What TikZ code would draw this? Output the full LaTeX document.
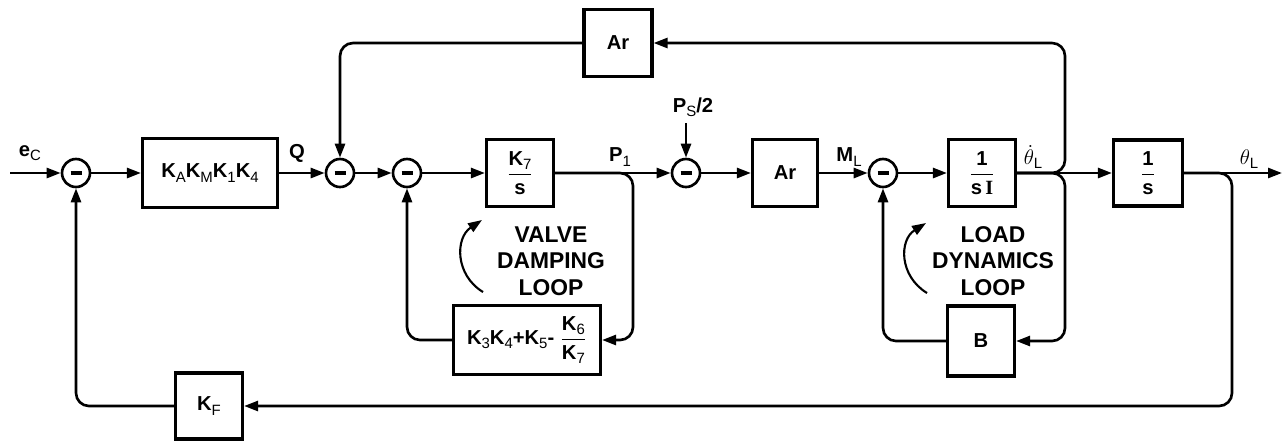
\documentclass[tikz,border=0pt]{standalone}
\usepackage{amsmath}
\usepackage{fontspec}
\setmainfont{Liberation Sans}
\newfontfamily\serifface{Liberation Serif}
\usetikzlibrary{arrows.meta, positioning, calc}

% light, lowered subscript
\newcommand{\lo}[1]{\raisebox{-0.4ex}{\mdseries\fontsize{8.5}{8.5}\selectfont #1}}

\begin{document}
\begin{tikzpicture}[
    x=0.02cm, y=-0.02cm,
    font=\fontsize{11.5}{13}\selectfont\bfseries,
    % Transfer block
    blk/.style={
        rectangle, draw=black, line width=1.8pt,
        minimum width=1.34cm, minimum height=1.34cm, inner sep=2pt
    },
    % Summing junction with minus bar
    sumj/.style={
        circle, draw=black, line width=1.5pt,
        minimum size=0.56cm, inner sep=0pt,
        path picture={\draw[line width=1.8pt]
            ([xshift=-1.1mm]path picture bounding box.center) --
            ([xshift=1.1mm]path picture bounding box.center);}
    },
    % Signal line
    sig/.style={line width=1.5pt, -{Triangle[length=2.8mm,width=2mm]}},
    rc/.style={rounded corners=2.6mm},
    lbl/.style={inner sep=1pt},
    loopnote/.style={align=center, font=\fontsize{13}{15}\selectfont\bfseries},
]
\useasboundingbox (0,0) rectangle (1283,440);

% ============================================================
% FORWARD PATH
% ============================================================
\coordinate (ec)  at (10,173);
\node[sumj] (sum1) at (76,173) {};
\node[blk, minimum width=2.7cm, minimum height=1.38cm] (kam) at (210,173)
    {K\lo{A}K\lo{M}K\lo{1}K\lo{4}};
\node[sumj] (sum2) at (340,173) {};
\node[sumj] (sum3) at (407,173) {};
\node[blk] (k7) at (520,173) {$\dfrac{\mbox{K\lo{7}}}{\mbox{s}}$};
\coordinate (p1) at (633,173);
\coordinate (ps) at (686,123);
\node[sumj] (sum4) at (686,173) {};
\node[blk, minimum width=1.3cm] (ar) at (785,173) {Ar};
\node[sumj] (sum5) at (883,173) {};
\node[blk] (si) at (982,173) {$\dfrac{\mbox{1}}{\mbox{s\,{\serifface I}}}$};
\coordinate (thd) at (1065,173);
\node[blk, minimum width=1.38cm, minimum height=1.32cm] (sint) at (1148,173)
    {$\dfrac{\mbox{1}}{\mbox{s}}$};
\coordinate (thl) at (1232,173);
\coordinate (out) at (1282,173);

% Signal labels
\node[lbl] (ec-l)  at (30,153)   {e\lo{C}};
\node[lbl] (q-l)   at (297,153)  {Q};
\node[lbl] (p1-l)  at (620,157)  {P\lo{1}};
\node[lbl] (ps-l)  at (693,107)  {P\lo{S}/2};
\node[lbl] (ml-l)  at (849,157)  {M\lo{L}};
\node[lbl] (thd-l) at (1033,157) {$\dot{\theta}$\lo{L}};
\node[lbl] (thl-l) at (1249,159) {$\theta$\lo{L}};

% ============================================================
% FEEDBACK BLOCKS
% ============================================================
\node[blk, minimum width=1.36cm] (ar-fb) at (618,43) {Ar};
\node[blk, minimum width=2.94cm, minimum height=1.38cm] (kv) at (527,340)
    {K\lo{3}K\lo{4}+K\lo{5}-\ $\dfrac{\mbox{K\lo{6}}}{\mbox{K\lo{7}}}$};
\node[blk, minimum height=1.4cm] (b) at (981,341) {B};
\node[blk, minimum height=1.32cm] (kf) at (209,406) {K\lo{F}};

% Loop notes
\node[loopnote] (valve) at (551,261) {VALVE\\DAMPING\\LOOP};
\node[loopnote] (load)  at (993,261) {LOAD\\DYNAMICS\\LOOP};
\coordinate (va-s) at (483,292);
\coordinate (va-e) at (482,220);
\coordinate (ld-s) at (927,293);
\coordinate (ld-e) at (926,223);

% ============================================================
% EDGES
% ============================================================
\draw[sig] (ec)   -- (sum1);
\draw[sig] (sum1) -- (kam);
\draw[sig] (kam)  -- (sum2);
\draw[sig] (sum2) -- (sum3);
\draw[sig] (sum3) -- (k7);
\draw[sig] (k7)   -- (sum4);
\draw[sig] (ps)   -- (sum4);
\draw[sig] (sum4) -- (ar);
\draw[sig] (ar)   -- (sum5);
\draw[sig] (sum5) -- (si);
\draw[sig] (si)   -- (sint);
\draw[sig] (sint) -- (out);

% Valve damping loop
\draw[sig, rc] (k7.east) -- (p1) -- (p1 |- kv.east) -- (kv.east);
\draw[sig, rc] (kv.west) -| (sum3.south);

% Ar feedback over the top
\draw[sig, rc] (si.east) -- (thd) -- (thd |- ar-fb.east) -- (ar-fb.east);
\draw[sig, rc] (ar-fb.west) -| (sum2.north);

% Load dynamics loop
\draw[sig, rc] (si.east) -- (thd) -- (thd |- b.east) -- (b.east);
\draw[sig, rc] (b.west) -| (sum5.south);

% Position feedback
\draw[sig, rc] (sint.east) -- (thl) -- (thl |- kf.east) -- (kf.east);
\draw[sig, rc] (kf.west) -| (sum1.south);

% Loop direction arrows
\draw[sig, line width=1.2pt] (va-s) .. controls (455,275) and (455,238) .. (va-e);
\draw[sig, line width=1.2pt] (ld-s) .. controls (899,276) and (899,240) .. (ld-e);

\end{tikzpicture}
\end{document}
